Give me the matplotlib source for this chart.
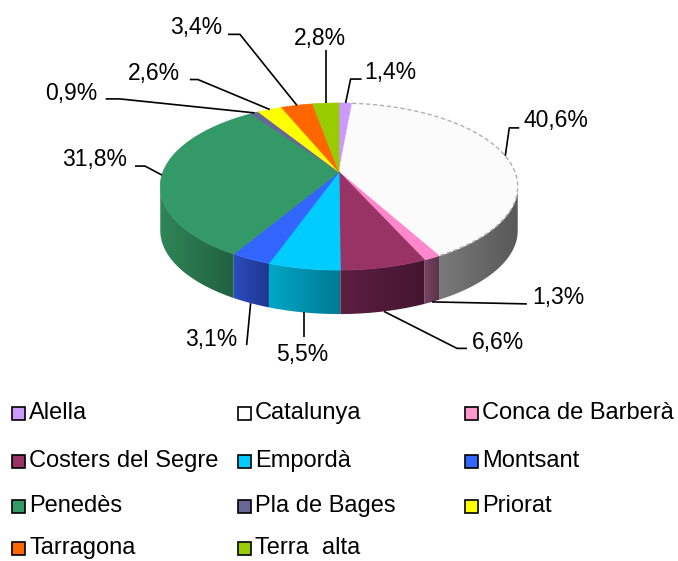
import numpy as np
import matplotlib.pyplot as plt
from matplotlib.colors import to_rgb
from matplotlib.patches import Polygon, Rectangle

plt.rcParams['font.family'] = ['Liberation Sans', 'DejaVu Sans']

# data
names = ['Alella', 'Catalunya', 'Conca de Barberà', 'Costers del Segre', 'Empordà',
         'Montsant', 'Penedès', 'Pla de Bages', 'Priorat', 'Tarragona', 'Terra  alta']
shares = [1.4, 40.6, 1.3, 6.6, 5.5, 3.1, 31.8, 0.9, 2.6, 3.4, 2.8]

top_colors = ['#cc99ff', '#fbfbfb', '#ff88cc', '#993366', '#00ccff', '#3366ff',
              '#339966', '#666699', '#ffff00', '#ff6600', '#99cc00']
side_colors = ['#9a70c0', '#7a7a7a', '#7a4462', '#5e1e42', '#00a8c8', '#2a4cc0',
               '#2f8558', '#4a4a70', '#b0b000', '#b04800', '#6a8c00']
legend_colors = ['#cc99ff', '#ffffff', '#ff99cc', '#993366', '#00ccff', '#3366ff',
                 '#339966', '#666699', '#ffff00', '#ff6600', '#99cc00']

# leader line layout: knee offset from anchor, stub, text offset from line end, ha
label_layout = [
    ((5, -24), 11, (3, -7), 'left'),
    ((4, -28), 10, (4, -7), 'left'),
    ((95, 2), 0, (5, -6), 'left'),
    ((73, 37), 10, (5, -6), 'left'),
    ((0, 25), 0, (-2, 17), 'center'),
    ((-4, 42), 0, (-9, -6), 'right'),
    ((-17, -9), -10, (-8, -7), 'right'),
    ((-135, -14), -14, (-8, -5), 'right'),
    ((-72, -30), -8, (-10, -6), 'right'),
    ((-57, -71), -12, (-6, -7), 'right'),
    ((0, -53), 0, (-6, -12), 'center'),
]

# pie geometry (pixels), slight perspective
CX, CY = 339, 172
RX, RY = 176, 81
K = 0.174
DEPTH = 44


def proj(theta_deg):
    t = np.radians(theta_deg)
    d = 1 + K * np.sin(t)
    return CX + RX * np.cos(t) / d, CY - RY * np.sin(t) / d


fig = plt.figure(figsize=(6.78, 5.61), dpi=100)
ax = fig.add_axes([0, 0, 1, 1])
ax.set_xlim(0, 678)
ax.set_ylim(561, 0)
ax.axis('off')

vals = np.array(shares)
cum = np.concatenate([[0], np.cumsum(vals) / vals.sum()])
t_start = 90 - 360 * cum[:-1]
t_end = 90 - 360 * cum[1:]
vis_lo, vis_hi = -180 + np.degrees(np.arcsin(K)), -np.degrees(np.arcsin(K))

# side walls with a left-to-right shade
for i in range(len(vals)):
    lo, hi = max(t_end[i], vis_lo), min(t_start[i], vis_hi)
    if lo >= hi:
        continue
    seg = np.linspace(lo, hi, 80)
    x, y = proj(seg)
    pts = np.column_stack([np.r_[x, x[::-1]], np.r_[y, y[::-1] + DEPTH]])
    wall = Polygon(pts, closed=True, facecolor='none', edgecolor='none')
    ax.add_patch(wall)
    base = np.array(to_rgb(side_colors[i]))
    shade = np.linspace(1.0, 0.72, 64)
    img = (shade[:, None] * base[None, :])[None, :, :]
    im = ax.imshow(img, extent=[x.min() - 1, x.max() + 1, y.max() + DEPTH + 1, y.min() - 1],
                   aspect='auto', interpolation='bilinear', zorder=1)
    im.set_clip_path(wall)

ax.set_xlim(0, 678)
ax.set_ylim(561, 0)

# top faces
for i in range(len(vals)):
    seg = np.linspace(t_start[i], t_end[i], 120)
    x, y = proj(seg)
    pts = np.column_stack([np.r_[CX, x], np.r_[CY, y]])
    ax.add_patch(Polygon(pts, closed=True, facecolor=top_colors[i],
                         edgecolor=top_colors[i], lw=0.5, zorder=2))
    if names[i] == 'Catalunya':
        ax.plot(x, y, color='#b0b0b0', lw=1.0, ls=(0, (3, 2)), zorder=3)

# percentage labels
for i, v in enumerate(vals):
    mid = (t_start[i] + t_end[i]) / 2
    ax0, ay0 = proj(mid)
    if vis_lo <= mid <= vis_hi:
        ay0 = ay0 + DEPTH
    (kx, ky), stub, (tx, ty), ha = label_layout[i]
    px = [ax0, ax0 + kx]
    py = [ay0, ay0 + ky]
    if stub:
        px.append(px[-1] + stub)
        py.append(py[-1])
    ax.plot(px, py, color='black', lw=1.2, solid_capstyle='butt', zorder=4)
    ax.text(px[-1] + tx, py[-1] + ty, f'{v:.1f}%'.replace('.', ','),
            ha=ha, va='center', fontsize=16.5, color='black')

# legend
row_y = [413, 461, 506, 548]
col_x = [12, 238, 465]
for i, name in enumerate(names):
    r, c = divmod(i, 3)
    ax.add_patch(Rectangle((col_x[c], row_y[r] - 6.5), 13, 13,
                           facecolor=legend_colors[i], edgecolor='black', lw=1.2))
    ax.text(col_x[c] + 17, row_y[r], name, ha='left', va='center',
            fontsize=17, color='black')

fig.savefig('out.png', dpi=100)
